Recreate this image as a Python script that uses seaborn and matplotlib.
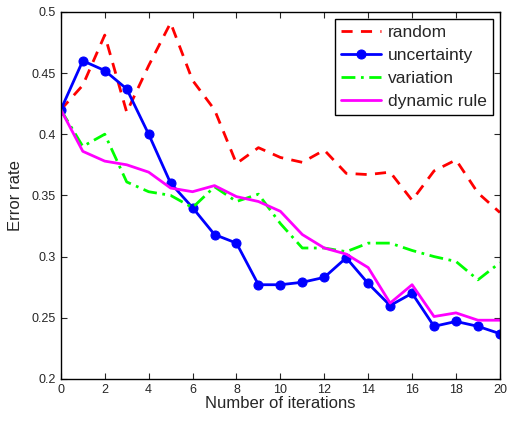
import seaborn as sns
import matplotlib.pyplot as plt
import numpy as np
import pandas as pd

iterations = list(range(21))

random_err = [0.42, 0.44, 0.481, 0.418, 0.456, 0.491, 0.444, 0.42, 0.376, 0.389, 0.381,
              0.377, 0.387, 0.368, 0.367, 0.369, 0.346, 0.37, 0.379, 0.352, 0.336]
uncertainty_err = [0.42, 0.46, 0.452, 0.437, 0.40, 0.36, 0.34, 0.318, 0.311, 0.277, 0.277,
                   0.279, 0.283, 0.299, 0.278, 0.26, 0.27, 0.243, 0.247, 0.243, 0.237]
variation_err = [0.42, 0.39, 0.40, 0.361, 0.353, 0.35, 0.34, 0.357, 0.345, 0.351, 0.327,
                 0.307, 0.307, 0.304, 0.311, 0.311, 0.305, 0.30, 0.296, 0.281, 0.295]
dynamic_err = [0.42, 0.386, 0.378, 0.375, 0.369, 0.356, 0.353, 0.358, 0.349, 0.345, 0.337,
               0.318, 0.307, 0.302, 0.291, 0.262, 0.277, 0.251, 0.254, 0.248, 0.248]

sns.set_style("ticks")
plt.rcParams['font.family'] = ['Liberation Sans', 'DejaVu Sans']
plt.rcParams['xtick.direction'] = 'in'
plt.rcParams['ytick.direction'] = 'in'

fig = plt.figure(figsize=(5.07, 4.22), dpi=100)
ax = fig.add_axes([0.120, 0.102, 0.866, 0.870])

sns.lineplot(x=iterations, y=random_err, ax=ax, color='#ff0000', linestyle=(0, (4, 3)),
             linewidth=2, label='random')
sns.lineplot(x=iterations, y=uncertainty_err, ax=ax, color='#0000ff', linewidth=2,
             marker='o', markersize=6.5, markeredgecolor='#0000ff', label='uncertainty')
sns.lineplot(x=iterations, y=variation_err, ax=ax, color='#00ff00', linewidth=2,
             linestyle=(0, (5, 2, 1, 2)), label='variation')
sns.lineplot(x=iterations, y=dynamic_err, ax=ax, color='#ff00ff', linewidth=2,
             label='dynamic rule')

ax.set_xlim(0, 20)
ax.set_ylim(0.2, 0.5)
ax.set_xticks(range(0, 21, 2))
ax.set_yticks(np.arange(0.2, 0.501, 0.05))
ax.set_yticklabels(['0.2', '0.25', '0.3', '0.35', '0.4', '0.45', '0.5'])
ax.tick_params(labelsize=9, top=True, right=True, length=4, width=0.8)
for s in ax.spines.values():
    s.set_linewidth(1)
    s.set_color('black')

ax.set_xlabel('Number of iterations', fontsize=12, labelpad=0)
ax.set_ylabel('Error rate', fontsize=12, labelpad=6)

leg = ax.legend(loc='upper right', fontsize=12.5, frameon=True, fancybox=False,
                edgecolor='black', framealpha=1, handlelength=2.3, borderpad=0.35,
                labelspacing=0.45, handletextpad=0.4, borderaxespad=0.4)
leg.get_frame().set_linewidth(1)

fig.savefig('out.png', dpi=100)
